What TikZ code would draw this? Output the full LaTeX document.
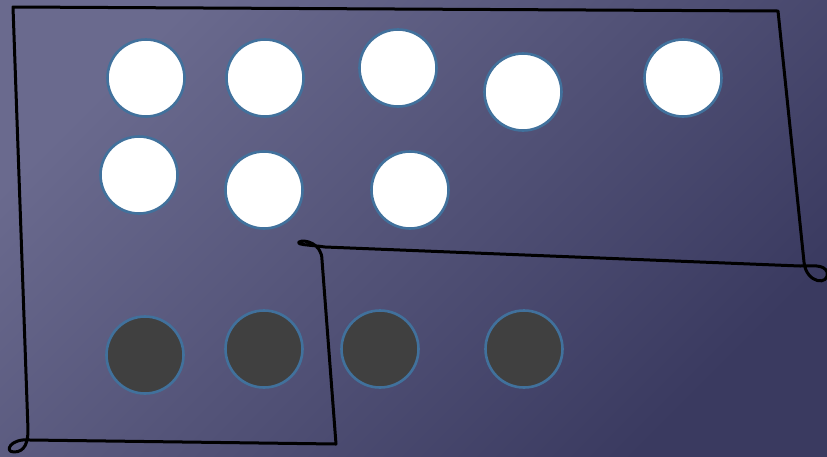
\documentclass[tikz,border=0pt]{standalone}
\usepackage{tikz}
\usetikzlibrary{positioning}
\definecolor{bgLight}{RGB}{106, 106, 142}
\definecolor{bgDark}{RGB}{58, 58, 96}
\definecolor{ringBlue}{RGB}{65, 113, 156}
\definecolor{darkDot}{RGB}{64, 64, 64}
\tikzset{
  whitedot/.style={
    circle, draw=ringBlue, line width=2.6pt, fill=white,
    minimum size=77pt, inner sep=0pt
  },
  darkdot/.style={
    circle, draw=ringBlue, line width=2.6pt, fill=darkDot,
    minimum size=77pt, inner sep=0pt
  },
  outline/.style={
    draw=black, line width=3pt, line join=round, line cap=round
  }
}
\begin{document}
\begin{tikzpicture}[x=1pt, y=-1pt]
  % background
  \useasboundingbox (0,0) rectangle (827,456);
  \shade[left color=bgLight, right color=bgDark, shading angle=45]
    (0,0) rectangle (827,456);

  % white dots (top group)
  \node[whitedot] (w1) at (146,78)  {};
  \node[whitedot] (w2) at (265,78)  {};
  \node[whitedot] (w3) at (398,68)  {};
  \node[whitedot] (w4) at (523,92)  {};
  \node[whitedot] (w5) at (683,78)  {};
  \node[whitedot] (w6) at (139,175) {};
  \node[whitedot] (w7) at (264,190) {};
  \node[whitedot] (w8) at (410,190) {};

  % dark dots (bottom row)
  \node[darkdot] (k1) at (145,355) {};
  \node[darkdot] (k2) at (264,349) {};
  \node[darkdot] (k3) at (380,349) {};
  \node[darkdot] (k4) at (524,349) {};

  % hand-drawn outline
  \draw[outline]
    (13,7) -- (778,11) -- (804,262)
      .. controls (806,284) and (830,286) .. (827,272)
      .. controls (824,264) and (812,266) .. (800,266)
    -- (325,247)
      .. controls (312,245) and (296,245) .. (299,242)
      .. controls (304,239) and (322,243) .. (322,260)
    -- (336,444) -- (30,440)
      .. controls (10,438) and (4,452) .. (14,452)
      .. controls (25,452) and (28,442) .. (28,430)
    -- cycle;
\end{tikzpicture}
\end{document}
